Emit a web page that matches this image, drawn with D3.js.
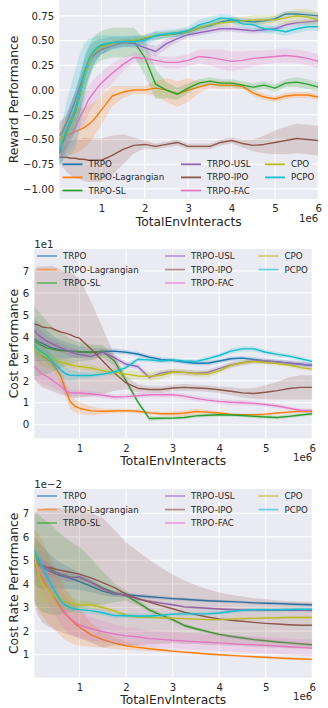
<!DOCTYPE html>
<html>
<head>
<meta charset="utf-8">
<script src="https://cdn.jsdelivr.net/npm/d3@7"></script>
<style>
body { margin: 0; background: #fff; }
svg { display: block; font-family: "DejaVu Sans", sans-serif; }
</style>
</head>
<body>
<script>
// env steps (in 1e6)
var steps = [0.03, 0.1, 0.2, 0.3, 0.4, 0.5, 0.6, 0.7, 0.8, 0.9,
	1.0, 1.25, 1.5, 1.75, 2.0, 2.25, 2.5, 2.75, 3.0, 3.25,
	3.5, 3.75, 4.0, 4.25, 4.5, 4.75, 5.0, 5.25, 5.5, 5.75,
	6.0];
var algos = ["TRPO", "TRPO-Lagrangian", "TRPO-SL", "TRPO-USL", "TRPO-IPO", "TRPO-FAC", "CPO", "PCPO"];

// reward performance, one row per algo (same order as algos)
var rewardMean = [
	[-0.64,-0.56,-0.43,-0.33,-0.22,-0.06,0.13,0.27,0.36,0.41, 0.44,0.48,0.49,0.50,0.52,0.55,0.56,0.57,0.59,0.63, 0.65,0.69,0.71,0.70,0.69,0.70,0.72,0.77,0.77,0.76, 0.75],
	[-0.50,-0.48,-0.46,-0.44,-0.42,-0.40,-0.38,-0.35,-0.31,-0.26, -0.20,-0.06,-0.02,0.00,0.00,0.02,0.00,-0.04,0.00,0.03, 0.06,0.05,0.05,0.04,-0.03,-0.07,-0.09,-0.06,-0.05,-0.05, -0.07],
	[-0.60,-0.54,-0.42,-0.32,-0.21,-0.05,0.14,0.28,0.37,0.42, 0.45,0.48,0.48,0.49,0.33,0.06,0.00,-0.04,0.02,0.07, 0.09,0.07,0.07,0.05,0.03,0.05,0.02,0.07,0.08,0.06, 0.03],
	[-0.46,-0.42,-0.33,-0.22,-0.10,0.03,0.16,0.27,0.34,0.38, 0.41,0.45,0.48,0.47,0.43,0.39,0.47,0.52,0.56,0.58, 0.60,0.62,0.62,0.61,0.60,0.61,0.62,0.66,0.68,0.69, 0.70],
	[-0.68,-0.68,-0.68,-0.69,-0.69,-0.70,-0.70,-0.71,-0.71,-0.71, -0.71,-0.66,-0.60,-0.56,-0.55,-0.57,-0.55,-0.53,-0.57,-0.57, -0.57,-0.53,-0.51,-0.54,-0.56,-0.55,-0.53,-0.51,-0.49,-0.50, -0.51],
	[-0.60,-0.56,-0.50,-0.45,-0.38,-0.28,-0.20,-0.10,-0.04,0.02, 0.07,0.17,0.26,0.33,0.32,0.30,0.28,0.28,0.30,0.34, 0.33,0.31,0.29,0.30,0.32,0.33,0.34,0.35,0.34,0.32, 0.29],
	[-0.54,-0.48,-0.40,-0.31,-0.20,-0.05,0.13,0.27,0.36,0.41, 0.44,0.47,0.49,0.50,0.53,0.55,0.56,0.58,0.59,0.63, 0.66,0.68,0.69,0.70,0.71,0.71,0.71,0.73,0.75,0.74, 0.71],
	[-0.62,-0.52,-0.40,-0.30,-0.19,-0.02,0.17,0.30,0.38,0.43, 0.46,0.48,0.49,0.49,0.50,0.55,0.57,0.58,0.60,0.66, 0.69,0.73,0.72,0.67,0.66,0.62,0.61,0.59,0.62,0.64, 0.64]
];
var rewardStd = [
	[0.12,0.15,0.18,0.20,0.20,0.20,0.18,0.15,0.12,0.10, 0.08,0.06,0.05,0.05,0.04,0.04,0.03,0.03,0.03,0.03, 0.03,0.03,0.03,0.03,0.03,0.03,0.03,0.03,0.03,0.03, 0.03],
	[0.15,0.18,0.20,0.22,0.22,0.22,0.20,0.20,0.18,0.16, 0.15,0.10,0.06,0.04,0.04,0.08,0.12,0.13,0.12,0.06, 0.04,0.04,0.04,0.03,0.03,0.03,0.03,0.03,0.03,0.03, 0.03],
	[0.10,0.12,0.15,0.18,0.20,0.20,0.18,0.17,0.16,0.15, 0.15,0.15,0.15,0.14,0.18,0.15,0.08,0.06,0.05,0.04, 0.04,0.04,0.04,0.04,0.04,0.04,0.04,0.04,0.05,0.05, 0.05],
	[0.15,0.12,0.10,0.10,0.10,0.08,0.07,0.06,0.05,0.05, 0.05,0.04,0.04,0.04,0.05,0.05,0.05,0.04,0.03,0.03, 0.03,0.03,0.03,0.03,0.03,0.03,0.03,0.03,0.03,0.03, 0.03],
	[0.05,0.10,0.15,0.18,0.20,0.20,0.22,0.22,0.22,0.22, 0.22,0.20,0.15,0.08,0.04,0.03,0.03,0.03,0.03,0.03, 0.03,0.03,0.03,0.04,0.06,0.09,0.12,0.14,0.15,0.15, 0.15],
	[0.10,0.12,0.14,0.15,0.15,0.15,0.15,0.14,0.13,0.12, 0.11,0.10,0.07,0.05,0.05,0.05,0.06,0.06,0.06,0.07, 0.08,0.10,0.10,0.09,0.08,0.07,0.07,0.07,0.07,0.07, 0.07],
	[0.10,0.10,0.12,0.12,0.12,0.12,0.10,0.08,0.06,0.05, 0.05,0.04,0.03,0.03,0.03,0.03,0.03,0.03,0.03,0.03, 0.03,0.04,0.04,0.04,0.05,0.05,0.05,0.06,0.07,0.08, 0.08],
	[0.15,0.20,0.28,0.35,0.40,0.38,0.30,0.22,0.15,0.12, 0.10,0.07,0.06,0.06,0.05,0.05,0.04,0.04,0.04,0.05, 0.05,0.04,0.04,0.04,0.04,0.04,0.04,0.04,0.04,0.04, 0.04]
];

// cost performance (x1e1)
var costMean = [
	[3.90,3.80,3.70,3.60,3.50,3.45,3.40,3.38,3.36,3.34, 3.32,3.30,3.33,3.35,3.30,3.22,3.07,2.97,2.93,2.85, 2.80,2.80,2.90,3.00,3.03,2.97,2.90,2.86,2.80,2.75, 2.70],
	[3.64,3.40,3.15,3.00,2.85,2.55,2.20,1.60,1.05,0.85, 0.75,0.63,0.61,0.62,0.64,0.61,0.54,0.50,0.50,0.52, 0.60,0.57,0.53,0.47,0.45,0.45,0.48,0.53,0.57,0.61, 0.60],
	[3.80,3.70,3.60,3.50,3.45,3.40,3.38,3.36,3.34,3.33, 3.32,3.30,3.33,2.90,2.00,1.05,0.28,0.29,0.30,0.33, 0.40,0.43,0.45,0.44,0.42,0.38,0.35,0.33,0.38,0.44, 0.50],
	[4.30,4.10,3.95,3.80,3.70,3.60,3.50,3.42,3.32,3.25, 3.20,3.10,3.30,3.05,2.75,2.65,2.15,2.35,2.42,2.38, 2.35,2.38,2.55,2.72,2.82,2.90,2.90,2.86,2.80,2.75, 2.70],
	[4.58,4.55,4.45,4.42,4.40,4.30,4.22,4.17,4.10,4.00, 3.94,3.45,2.90,2.35,1.90,1.66,1.60,1.60,1.67,1.70, 1.67,1.65,1.59,1.52,1.45,1.42,1.48,1.55,1.65,1.70, 1.70],
	[2.65,2.50,2.30,2.20,2.05,1.90,1.75,1.55,1.45,1.44, 1.44,1.40,1.34,1.26,1.28,1.32,1.36,1.36,1.36,1.30, 1.20,1.12,1.06,1.02,1.00,0.97,0.92,0.85,0.75,0.66, 0.65],
	[3.50,3.35,3.20,3.10,3.03,2.90,2.85,2.80,2.72,2.68, 2.65,2.58,2.45,2.38,2.30,2.22,2.20,2.25,2.40,2.38, 2.32,2.30,2.45,2.70,2.82,2.88,2.83,2.78,2.72,2.60, 2.53],
	[3.64,3.45,3.30,3.15,2.95,2.70,2.50,2.32,2.25,2.24, 2.24,2.24,2.30,2.40,2.60,2.98,2.95,2.90,2.95,2.90, 2.88,3.00,3.15,3.35,3.45,3.45,3.30,3.20,3.12,3.00, 2.88]
];
var costStd = [
	[1.00,0.90,0.80,0.70,0.60,0.50,0.45,0.40,0.35,0.30, 0.25,0.20,0.15,0.12,0.10,0.10,0.10,0.10,0.10,0.10, 0.10,0.10,0.10,0.10,0.10,0.10,0.10,0.10,0.10,0.10, 0.10],
	[0.50,0.50,0.45,0.40,0.35,0.35,0.35,0.35,0.30,0.30, 0.28,0.20,0.12,0.10,0.08,0.08,0.08,0.08,0.10,0.12, 0.12,0.10,0.08,0.06,0.06,0.06,0.06,0.06,0.06,0.06, 0.06],
	[1.60,1.50,1.35,1.20,1.05,0.90,0.80,0.70,0.60,0.50, 0.45,0.35,0.30,0.20,0.15,0.12,0.10,0.08,0.08,0.08, 0.08,0.08,0.08,0.08,0.08,0.08,0.08,0.08,0.08,0.08, 0.08],
	[0.40,0.35,0.30,0.25,0.20,0.20,0.20,0.20,0.20,0.20, 0.20,0.15,0.15,0.15,0.12,0.12,0.12,0.12,0.12,0.12, 0.12,0.12,0.12,0.12,0.12,0.12,0.12,0.12,0.12,0.12, 0.12],
	[2.50,2.65,2.75,2.80,2.85,2.85,2.85,2.85,2.85,2.80, 2.70,2.15,1.50,0.80,0.30,0.18,0.15,0.15,0.15,0.15, 0.15,0.15,0.15,0.18,0.20,0.25,0.32,0.40,0.50,0.55, 0.55],
	[0.60,0.55,0.45,0.40,0.35,0.30,0.25,0.20,0.15,0.15, 0.15,0.12,0.12,0.12,0.12,0.12,0.12,0.12,0.12,0.12, 0.12,0.12,0.12,0.12,0.12,0.10,0.10,0.10,0.08,0.08, 0.08],
	[0.30,0.30,0.25,0.20,0.20,0.20,0.20,0.18,0.15,0.15, 0.15,0.15,0.15,0.18,0.20,0.20,0.20,0.18,0.15,0.15, 0.15,0.15,0.12,0.12,0.10,0.10,0.10,0.10,0.10,0.10, 0.10],
	[0.30,0.30,0.30,0.30,0.30,0.30,0.30,0.30,0.25,0.20, 0.15,0.12,0.10,0.10,0.10,0.10,0.10,0.10,0.10,0.10, 0.10,0.10,0.10,0.12,0.12,0.12,0.10,0.10,0.10,0.10, 0.10]
];

// cost rate performance (x1e-2)
var rateMean = [
	[5.00,4.85,4.70,4.60,4.50,4.42,4.35,4.30,4.24,4.18, 4.10,3.90,3.70,3.57,3.55,3.50,3.46,3.42,3.38,3.35, 3.32,3.29,3.27,3.25,3.23,3.20,3.18,3.17,3.15,3.13, 3.12],
	[4.82,4.55,4.25,3.87,3.60,3.30,2.98,2.72,2.52,2.33, 2.17,1.84,1.64,1.49,1.38,1.31,1.25,1.20,1.15,1.11, 1.07,1.03,1.00,0.97,0.94,0.91,0.89,0.86,0.84,0.82, 0.80],
	[5.20,5.00,4.80,4.70,4.60,4.50,4.42,4.36,4.30,4.28, 4.28,4.08,3.83,3.63,3.50,3.22,2.90,2.68,2.49,2.24, 2.10,1.98,1.86,1.78,1.71,1.64,1.59,1.54,1.50,1.46, 1.42],
	[4.89,4.78,4.72,4.65,4.56,4.48,4.40,4.34,4.27,4.28, 4.30,4.07,3.78,3.60,3.52,3.36,3.27,3.19,3.12,3.03, 3.00,2.97,2.94,2.92,2.90,2.89,2.88,2.88,2.88,2.88, 2.87],
	[5.03,4.90,4.78,4.72,4.68,4.62,4.58,4.54,4.50,4.46, 4.42,4.26,4.06,3.85,3.57,3.39,3.23,3.08,2.95,2.80, 2.70,2.60,2.52,2.46,2.42,2.37,2.33,2.30,2.27,2.25, 2.25],
	[5.03,4.75,4.45,4.10,3.72,3.40,3.08,2.77,2.56,2.40, 2.26,2.10,1.98,1.88,1.80,1.76,1.68,1.65,1.61,1.58, 1.55,1.53,1.50,1.47,1.44,1.42,1.40,1.37,1.34,1.31, 1.28],
	[5.24,4.60,3.97,3.83,3.60,3.42,3.30,3.24,3.19,3.15, 3.12,3.11,3.00,2.86,2.68,2.60,2.59,2.56,2.55,2.53, 2.51,2.49,2.49,2.51,2.53,2.54,2.56,2.57,2.58,2.58, 2.58],
	[5.39,5.15,4.75,4.30,3.95,3.60,3.27,3.10,3.00,2.94, 2.91,2.87,2.78,2.66,2.65,2.64,2.64,2.67,2.72,2.73, 2.73,2.74,2.77,2.83,2.88,2.91,2.91,2.91,2.92,2.93, 2.93]
];
var rateStd = [
	[1.00,1.00,0.90,0.80,0.70,0.60,0.55,0.50,0.45,0.40, 0.35,0.25,0.18,0.12,0.10,0.08,0.08,0.08,0.07,0.07, 0.06,0.06,0.06,0.06,0.06,0.06,0.06,0.06,0.06,0.06, 0.06],
	[1.50,1.60,1.60,1.50,1.40,1.30,1.20,1.10,1.00,0.90, 0.80,0.50,0.35,0.25,0.18,0.12,0.10,0.08,0.07,0.06, 0.05,0.05,0.05,0.05,0.05,0.05,0.05,0.05,0.05,0.05, 0.05],
	[1.90,2.00,2.00,1.95,1.90,1.80,1.70,1.60,1.50,1.40, 1.30,1.00,0.70,0.40,0.20,0.12,0.10,0.10,0.08,0.08, 0.08,0.07,0.07,0.07,0.07,0.07,0.07,0.07,0.07,0.07, 0.07],
	[0.50,0.40,0.35,0.30,0.25,0.22,0.20,0.20,0.18,0.18, 0.18,0.15,0.12,0.10,0.08,0.07,0.06,0.06,0.05,0.05, 0.05,0.05,0.05,0.05,0.05,0.05,0.05,0.05,0.05,0.05, 0.05],
	[1.90,2.20,2.40,2.50,2.55,2.60,2.62,2.65,2.66,2.68, 2.70,2.75,2.75,2.45,2.20,2.00,1.80,1.62,1.45,1.35, 1.25,1.18,1.12,1.08,1.05,1.03,1.02,1.00,1.00,1.00, 1.00],
	[0.60,0.70,0.75,0.80,0.80,0.80,0.78,0.75,0.70,0.65, 0.60,0.50,0.45,0.40,0.38,0.36,0.35,0.35,0.35,0.35, 0.35,0.35,0.35,0.35,0.35,0.35,0.35,0.35,0.35,0.35, 0.35],
	[0.80,1.00,0.80,0.60,0.50,0.40,0.35,0.30,0.25,0.20, 0.20,0.15,0.12,0.10,0.08,0.06,0.06,0.05,0.05,0.05, 0.05,0.05,0.05,0.05,0.05,0.05,0.05,0.05,0.05,0.05, 0.05],
	[0.30,0.30,0.30,0.30,0.25,0.20,0.20,0.18,0.15,0.15, 0.15,0.12,0.12,0.10,0.10,0.10,0.10,0.08,0.08,0.08, 0.08,0.08,0.08,0.08,0.08,0.08,0.08,0.08,0.08,0.08, 0.08]
];

// tick labels
var stepTicks = [1, 2, 3, 4, 5, 6];
var rewardTicks = [-1.0, -0.75, -0.5, -0.25, 0, 0.25, 0.5, 0.75];
var costTicks = [0, 1, 2, 3, 4, 5, 6, 7];
var rateTicks = [1, 2, 3, 4, 5, 6, 7];

// tab10 picks (red skipped)
var palette = ["#1f77b4", "#ff7f0e", "#2ca02c", "#9467bd", "#8c564b", "#e377c2", "#bcbd22", "#17becf"];
var textColor = "#262626";

var svg = d3.select("body")
	.append("svg")
	.attr("width", 328)
	.attr("height", 708);

drawPanel({
	id: "p1", left: 59.3, right: 318.3, top: 0, bottom: 199,
	yDomain: [-1.102, 0.911], yTicks: rewardTicks, yFormat: d3.format(".2f"),
	mean: rewardMean, std: rewardStd, ylabel: "Reward Performance", yOffset: null,
	legendCols: [62.5, 181, 265], legendRows: [164.3, 177.4, 190.5], handleAlpha: 1
});
drawPanel({
	id: "p2", left: 34.3, right: 312.3, top: 249, bottom: 438.3,
	yDomain: [-0.62, 8.0], yTicks: costTicks, yFormat: d3.format("d"),
	mean: costMean, std: costStd, ylabel: "Cost Performance", yOffset: "1e1",
	legendCols: [37, 165, 258.5], legendRows: [256, 269.6, 283], handleAlpha: 0.6
});
drawPanel({
	id: "p3", left: 34.3, right: 312.3, top: 489, bottom: 677.7,
	yDomain: [0.024, 8.03], yTicks: rateTicks, yFormat: d3.format("d"),
	mean: rateMean, std: rateStd, ylabel: "Cost Rate Performance", yOffset: "1e\u22122",
	legendCols: [37, 165, 258.5], legendRows: [496, 509.6, 523], handleAlpha: 0.6
});

function drawPanel(p){
	var x = d3.scaleLinear()
		.domain([steps[0], 6])
		.range([p.left, p.right]);
	var y = d3.scaleLinear()
		.domain(p.yDomain)
		.range([p.bottom, p.top]);

	var g = svg.append("g");

	//darkgrid background
	g.append("rect")
		.attr("x", p.left)
		.attr("y", p.top)
		.attr("width", p.right - p.left)
		.attr("height", p.bottom - p.top)
		.attr("fill", "#eaeaf2");

	g.append("clipPath")
		.attr("id", "clip-" + p.id)
		.append("rect")
		.attr("x", p.left)
		.attr("y", p.top)
		.attr("width", p.right - p.left)
		.attr("height", p.bottom - p.top);

	//white grid lines
	g.selectAll(".vgrid")
		.data(stepTicks)
		.enter()
		.append("line")
		.attr("x1", function(d){ return x(d); })
		.attr("x2", function(d){ return x(d); })
		.attr("y1", p.top)
		.attr("y2", p.bottom)
		.attr("stroke", "#fff")
		.attr("stroke-width", 1.1);
	g.selectAll(".hgrid")
		.data(p.yTicks)
		.enter()
		.append("line")
		.attr("x1", p.left)
		.attr("x2", p.right)
		.attr("y1", function(d){ return y(d); })
		.attr("y2", function(d){ return y(d); })
		.attr("stroke", "#fff")
		.attr("stroke-width", 1.1);

	//axes without ticks or spines
	var xAxis = g.append("g")
		.attr("transform", "translate(0," + p.bottom + ")")
		.call(d3.axisBottom(x).tickValues(stepTicks).tickFormat(d3.format("d")).tickSize(0).tickPadding(6));
	var yAxis = g.append("g")
		.attr("transform", "translate(" + p.left + ",0)")
		.call(d3.axisLeft(y).tickValues(p.yTicks).tickFormat(p.yFormat).tickSize(0).tickPadding(5));
	[xAxis, yAxis].forEach(function(ax){
		ax.select(".domain").remove();
		ax.attr("font-family", null).attr("font-size", null);
		ax.selectAll("text")
			.attr("fill", textColor)
			.style("font-size", "10.2px");
	});

	//bands and mean lines
	var plot = g.append("g").attr("clip-path", "url(#clip-" + p.id + ")");
	var band = d3.area()
		.x(function(d, i){ return x(steps[i]); })
		.y0(function(d, i){ return y(d[0] - d[1]); })
		.y1(function(d, i){ return y(d[0] + d[1]); });
	var line = d3.line()
		.x(function(d, i){ return x(steps[i]); })
		.y(function(d){ return y(d); });

	algos.forEach(function(name, k){
		var pairs = p.mean[k].map(function(m, i){ return [m, p.std[k][i]]; });
		plot.append("path")
			.datum(pairs)
			.attr("d", band)
			.attr("fill", palette[k])
			.attr("fill-opacity", 0.2);
		plot.append("path")
			.datum(p.mean[k])
			.attr("d", line)
			.attr("fill", "none")
			.attr("stroke", palette[k])
			.attr("stroke-width", 1.4)
			.attr("stroke-linejoin", "round");
	});

	//labels
	g.append("text")
		.attr("x", (p.left + p.right) / 2)
		.attr("y", p.bottom + 26.5)
		.attr("text-anchor", "middle")
		.attr("fill", textColor)
		.style("font-size", "12.3px")
		.text("TotalEnvInteracts");
	g.append("text")
		.attr("transform", "translate(17.8," + ((p.top + p.bottom) / 2) + ") rotate(-90)")
		.attr("text-anchor", "middle")
		.attr("fill", textColor)
		.style("font-size", "12.3px")
		.text(p.ylabel);
	g.append("text")
		.attr("x", p.right)
		.attr("y", p.bottom + 22.5)
		.attr("text-anchor", "end")
		.attr("fill", textColor)
		.style("font-size", "10.2px")
		.text("1e6");
	if (p.yOffset){
		g.append("text")
			.attr("x", p.left)
			.attr("y", p.top - 1.5)
			.attr("fill", textColor)
			.style("font-size", "10.2px")
			.text(p.yOffset);
	};

	//legend, 3 columns filled top-down
	var items = g.selectAll(".legend")
		.data(algos)
		.enter()
		.append("g")
		.attr("transform", function(d, i){
			return "translate(" + p.legendCols[Math.floor(i / 3)] + "," + p.legendRows[i % 3] + ")";
		});
	items.append("line")
		.attr("x1", 0)
		.attr("x2", 20)
		.attr("stroke", function(d, i){ return palette[i]; })
		.attr("stroke-opacity", p.handleAlpha)
		.attr("stroke-width", 1.8);
	items.append("text")
		.attr("x", 26)
		.attr("dy", "0.35em")
		.attr("fill", textColor)
		.style("font-size", "8.7px")
		.text(function(d){ return d; });
};
</script>
</body>
</html>
